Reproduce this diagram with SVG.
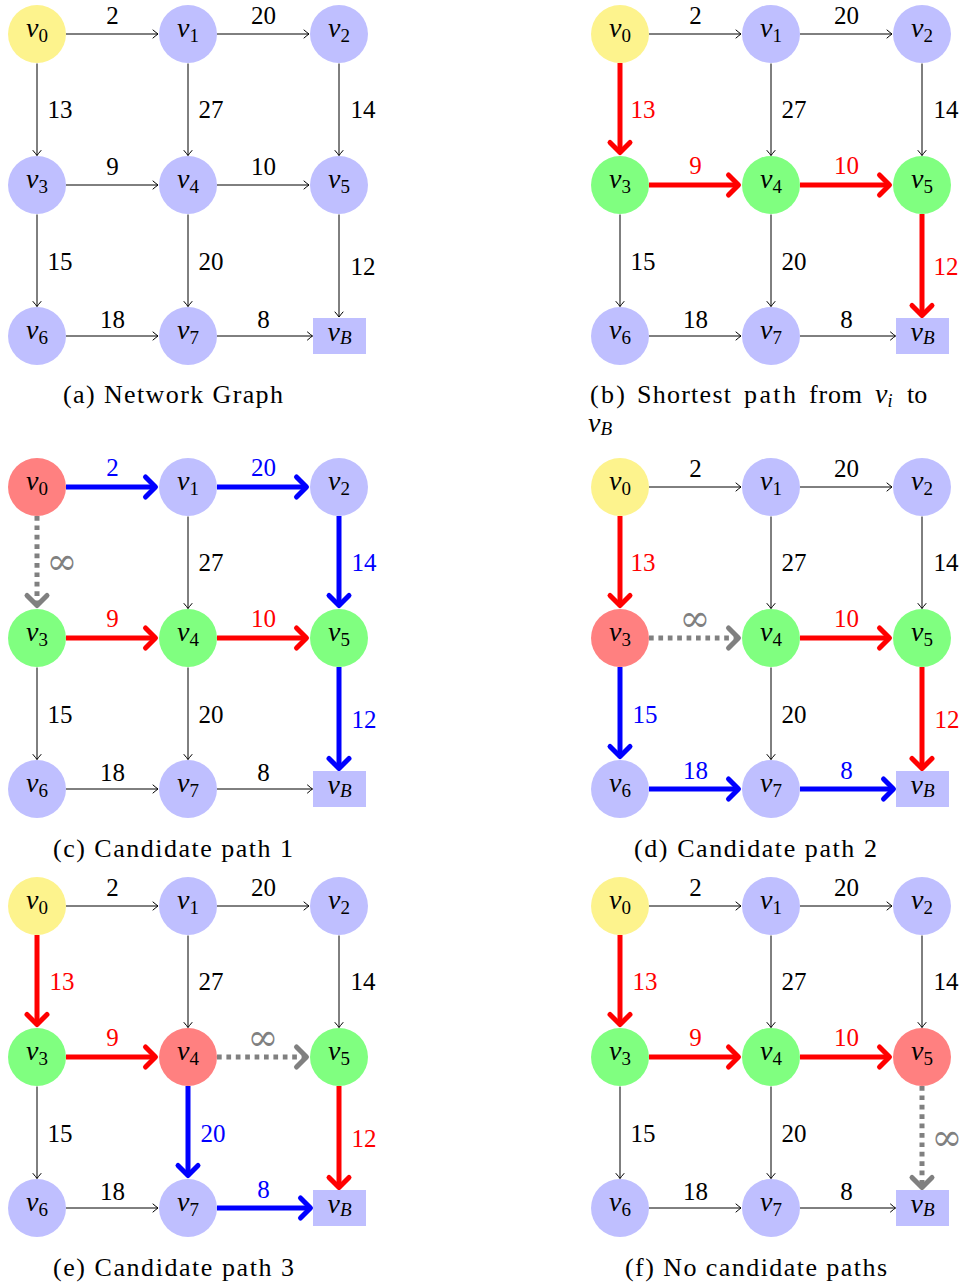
<svg xmlns="http://www.w3.org/2000/svg" width="964" height="1288" viewBox="0 0 964 1288">
<defs>
<style>
.e{fill:none;stroke:#000;stroke-width:1;marker-end:url(#ah)}
.er{fill:none;stroke:#f00;stroke-width:5;marker-end:url(#ah-r)}
.eb{fill:none;stroke:#00f;stroke-width:5;marker-end:url(#ah-b)}
.eg{fill:none;stroke:#808080;stroke-width:5;stroke-dasharray:4.7 4.7;marker-end:url(#ah-g)}
.w{font-family:"Liberation Serif","DejaVu Serif",serif;font-size:25px;text-anchor:middle;fill:#000}
.wr{fill:#f00}.wb{fill:#00f}.wg{fill:#808080}
.inf{font-family:"DejaVu Serif","Liberation Serif",serif;font-size:37px}
.nv{font-family:"Liberation Serif","DejaVu Serif",serif;font-style:italic;font-size:28px;text-anchor:middle;fill:#000}
.sb{font-style:normal;font-size:19px}
.si{font-style:italic}
.ny{fill:#FDF38D}.nb{fill:#BFBFFF}.ng{fill:#80FF80}.nr{fill:#FF8080}
.cap{font-family:"Liberation Serif","DejaVu Serif",serif;font-size:26px;fill:#000}
</style>
<marker id="ah" markerUnits="userSpaceOnUse" markerWidth="12" markerHeight="12" orient="auto" overflow="visible">
<path d="M-5,-4 Q-1.5,-1 0,0 Q-1.5,1 -5,4" fill="none" stroke="#000" stroke-width="1" stroke-linecap="round"/>
</marker>
<marker id="ah-r" markerUnits="userSpaceOnUse" markerWidth="24" markerHeight="24" orient="auto" overflow="visible">
<path d="M-10,-10 L0,0 L-10,10" fill="none" stroke="#f00" stroke-width="5" stroke-linecap="round" stroke-linejoin="round"/>
</marker>
<marker id="ah-b" markerUnits="userSpaceOnUse" markerWidth="24" markerHeight="24" orient="auto" overflow="visible">
<path d="M-10,-10 L0,0 L-10,10" fill="none" stroke="#00f" stroke-width="5" stroke-linecap="round" stroke-linejoin="round"/>
</marker>
<marker id="ah-g" markerUnits="userSpaceOnUse" markerWidth="24" markerHeight="24" orient="auto" overflow="visible">
<path d="M-10,-10 L0,0 L-10,10" fill="none" stroke="#808080" stroke-width="5" stroke-linecap="round" stroke-linejoin="round"/>
</marker>
</defs>
<rect width="964" height="1288" fill="#fff"/>

<!-- (a) network graph -->
<g id="panel-a">
<g id="a-edges">
<path class="e" d="M66,34H158"/>
<path class="e" d="M217,34H309"/>
<path class="e" d="M66,185H158"/>
<path class="e" d="M217,185H309"/>
<path class="e" d="M66,336H158"/>
<path class="e" d="M217,336H312.5"/>
<path class="e" d="M37,63.5V155.5"/>
<path class="e" d="M188,63.5V155.5"/>
<path class="e" d="M339,63.5V155.5"/>
<path class="e" d="M37,214.5V306.5"/>
<path class="e" d="M188,214.5V306.5"/>
<path class="e" d="M339,214.5V317"/>
<text class="w" x="112.5" y="24">2</text>
<text class="w" x="263.5" y="24">20</text>
<text class="w" x="112.5" y="175">9</text>
<text class="w" x="263.5" y="175">10</text>
<text class="w" x="112.5" y="328">18</text>
<text class="w" x="263.5" y="328">8</text>
<text class="w" x="60" y="118">13</text>
<text class="w" x="211" y="118">27</text>
<text class="w" x="363" y="118">14</text>
<text class="w" x="60" y="270">15</text>
<text class="w" x="211" y="270">20</text>
<text class="w" x="363" y="275">12</text>
</g>
<g id="a-v0"><circle class="ny" cx="37" cy="34" r="29"/><text class="nv" x="37" y="37">v<tspan class="sb" dy="5">0</tspan></text></g>
<g id="a-v1"><circle class="nb" cx="188" cy="34" r="29"/><text class="nv" x="188" y="37">v<tspan class="sb" dy="5">1</tspan></text></g>
<g id="a-v2"><circle class="nb" cx="339" cy="34" r="29"/><text class="nv" x="339" y="37">v<tspan class="sb" dy="5">2</tspan></text></g>
<g id="a-v3"><circle class="nb" cx="37" cy="185" r="29"/><text class="nv" x="37" y="188">v<tspan class="sb" dy="5">3</tspan></text></g>
<g id="a-v4"><circle class="nb" cx="188" cy="185" r="29"/><text class="nv" x="188" y="188">v<tspan class="sb" dy="5">4</tspan></text></g>
<g id="a-v5"><circle class="nb" cx="339" cy="185" r="29"/><text class="nv" x="339" y="188">v<tspan class="sb" dy="5">5</tspan></text></g>
<g id="a-v6"><circle class="nb" cx="37" cy="336" r="29"/><text class="nv" x="37" y="339">v<tspan class="sb" dy="5">6</tspan></text></g>
<g id="a-v7"><circle class="nb" cx="188" cy="336" r="29"/><text class="nv" x="188" y="339">v<tspan class="sb" dy="5">7</tspan></text></g>
<g id="a-vB"><rect class="nb" x="313" y="318" width="53" height="36"/><text class="nv" x="339.5" y="340.5">v<tspan class="sb si" dy="3">B</tspan></text></g>
<text class="cap" x="63" y="403" textLength="220" lengthAdjust="spacing">(a) Network Graph</text>
</g>

<!-- (b) shortest path -->
<g id="panel-b" transform="translate(583,0)">
<g id="b-edges">
<path class="e" d="M66,34H158"/>
<path class="e" d="M217,34H309"/>
<path class="er" d="M66,185H155.5"/>
<path class="er" d="M217,185H306.5"/>
<path class="e" d="M66,336H158"/>
<path class="e" d="M217,336H312.5"/>
<path class="er" d="M37,63V152.5"/>
<path class="e" d="M188,63.5V155.5"/>
<path class="e" d="M339,63.5V155.5"/>
<path class="e" d="M37,214.5V306.5"/>
<path class="e" d="M188,214.5V306.5"/>
<path class="er" d="M339,214V315.5"/>
<text class="w" x="112.5" y="24">2</text>
<text class="w" x="263.5" y="24">20</text>
<text class="w wr" x="112.5" y="174">9</text>
<text class="w wr" x="263.5" y="174">10</text>
<text class="w" x="112.5" y="328">18</text>
<text class="w" x="263.5" y="328">8</text>
<text class="w wr" x="60" y="118">13</text>
<text class="w" x="211" y="118">27</text>
<text class="w" x="363" y="118">14</text>
<text class="w" x="60" y="270">15</text>
<text class="w" x="211" y="270">20</text>
<text class="w wr" x="363" y="275">12</text>
</g>
<g id="b-v0"><circle class="ny" cx="37" cy="34" r="29"/><text class="nv" x="37" y="37">v<tspan class="sb" dy="5">0</tspan></text></g>
<g id="b-v1"><circle class="nb" cx="188" cy="34" r="29"/><text class="nv" x="188" y="37">v<tspan class="sb" dy="5">1</tspan></text></g>
<g id="b-v2"><circle class="nb" cx="339" cy="34" r="29"/><text class="nv" x="339" y="37">v<tspan class="sb" dy="5">2</tspan></text></g>
<g id="b-v3"><circle class="ng" cx="37" cy="185" r="29"/><text class="nv" x="37" y="188">v<tspan class="sb" dy="5">3</tspan></text></g>
<g id="b-v4"><circle class="ng" cx="188" cy="185" r="29"/><text class="nv" x="188" y="188">v<tspan class="sb" dy="5">4</tspan></text></g>
<g id="b-v5"><circle class="ng" cx="339" cy="185" r="29"/><text class="nv" x="339" y="188">v<tspan class="sb" dy="5">5</tspan></text></g>
<g id="b-v6"><circle class="nb" cx="37" cy="336" r="29"/><text class="nv" x="37" y="339">v<tspan class="sb" dy="5">6</tspan></text></g>
<g id="b-v7"><circle class="nb" cx="188" cy="336" r="29"/><text class="nv" x="188" y="339">v<tspan class="sb" dy="5">7</tspan></text></g>
<g id="b-vB"><rect class="nb" x="313" y="318" width="53" height="36"/><text class="nv" x="339.5" y="340.5">v<tspan class="sb si" dy="3">B</tspan></text></g>
<text class="cap" y="403"><tspan x="7" textLength="35" lengthAdjust="spacing">(b)</tspan><tspan x="54" textLength="94" lengthAdjust="spacing">Shortest</tspan><tspan x="161" textLength="52" lengthAdjust="spacing">path</tspan><tspan x="226" textLength="53" lengthAdjust="spacing">from</tspan><tspan x="292" font-style="italic" font-size="28">v</tspan><tspan font-style="italic" font-size="18" dy="4">i</tspan><tspan x="324" dy="-4">to</tspan></text>
<text class="cap" x="5" y="432"><tspan font-style="italic" font-size="28">v</tspan><tspan font-style="italic" font-size="19" dy="3">B</tspan></text>
</g>

<!-- (c) candidate path 1 -->
<g id="panel-c" transform="translate(0,453)">
<g id="c-edges">
<path class="eb" d="M66,34H155.5"/>
<path class="eb" d="M217,34H306.5"/>
<path class="er" d="M66,185H155.5"/>
<path class="er" d="M217,185H306.5"/>
<path class="e" d="M66,336H158"/>
<path class="e" d="M217,336H312.5"/>
<path class="eg" d="M37,63V152.5"/>
<path class="e" d="M188,63.5V155.5"/>
<path class="eb" d="M339,63V152.5"/>
<path class="e" d="M37,214.5V306.5"/>
<path class="e" d="M188,214.5V306.5"/>
<path class="eb" d="M339,214V315.5"/>
<text class="w wb" x="112.5" y="23">2</text>
<text class="w wb" x="263.5" y="23">20</text>
<text class="w wr" x="112.5" y="174">9</text>
<text class="w wr" x="263.5" y="174">10</text>
<text class="w" x="112.5" y="328">18</text>
<text class="w" x="263.5" y="328">8</text>
<text class="w wg inf" x="62" y="121">∞</text>
<text class="w" x="211" y="118">27</text>
<text class="w wb" x="364" y="118">14</text>
<text class="w" x="60" y="270">15</text>
<text class="w" x="211" y="270">20</text>
<text class="w wb" x="364" y="275">12</text>
</g>
<g id="c-v0"><circle class="nr" cx="37" cy="34" r="29"/><text class="nv" x="37" y="37">v<tspan class="sb" dy="5">0</tspan></text></g>
<g id="c-v1"><circle class="nb" cx="188" cy="34" r="29"/><text class="nv" x="188" y="37">v<tspan class="sb" dy="5">1</tspan></text></g>
<g id="c-v2"><circle class="nb" cx="339" cy="34" r="29"/><text class="nv" x="339" y="37">v<tspan class="sb" dy="5">2</tspan></text></g>
<g id="c-v3"><circle class="ng" cx="37" cy="185" r="29"/><text class="nv" x="37" y="188">v<tspan class="sb" dy="5">3</tspan></text></g>
<g id="c-v4"><circle class="ng" cx="188" cy="185" r="29"/><text class="nv" x="188" y="188">v<tspan class="sb" dy="5">4</tspan></text></g>
<g id="c-v5"><circle class="ng" cx="339" cy="185" r="29"/><text class="nv" x="339" y="188">v<tspan class="sb" dy="5">5</tspan></text></g>
<g id="c-v6"><circle class="nb" cx="37" cy="336" r="29"/><text class="nv" x="37" y="339">v<tspan class="sb" dy="5">6</tspan></text></g>
<g id="c-v7"><circle class="nb" cx="188" cy="336" r="29"/><text class="nv" x="188" y="339">v<tspan class="sb" dy="5">7</tspan></text></g>
<g id="c-vB"><rect class="nb" x="313" y="318" width="53" height="36"/><text class="nv" x="339.5" y="340.5">v<tspan class="sb si" dy="3">B</tspan></text></g>
<text class="cap" x="53" y="404" textLength="240" lengthAdjust="spacing">(c) Candidate path 1</text>
</g>

<!-- (d) candidate path 2 -->
<g id="panel-d" transform="translate(583,453)">
<g id="d-edges">
<path class="e" d="M66,34H158"/>
<path class="e" d="M217,34H309"/>
<path class="eg" d="M66,185H155.5"/>
<path class="er" d="M217,185H306.5"/>
<path class="eb" d="M66,336H155.5"/>
<path class="eb" d="M217,336H310.5"/>
<path class="er" d="M37,63V152.5"/>
<path class="e" d="M188,63.5V155.5"/>
<path class="e" d="M339,63.5V155.5"/>
<path class="eb" d="M37,214V303.5"/>
<path class="e" d="M188,214.5V306.5"/>
<path class="er" d="M339,214V315.5"/>
<text class="w" x="112.5" y="24">2</text>
<text class="w" x="263.5" y="24">20</text>
<text class="w wg inf" x="112" y="178">∞</text>
<text class="w wr" x="263.5" y="174">10</text>
<text class="w wb" x="112.5" y="326">18</text>
<text class="w wb" x="263.5" y="326">8</text>
<text class="w wr" x="60" y="118">13</text>
<text class="w" x="211" y="118">27</text>
<text class="w" x="363" y="118">14</text>
<text class="w wb" x="62" y="270">15</text>
<text class="w" x="211" y="270">20</text>
<text class="w wr" x="364" y="275">12</text>
</g>
<g id="d-v0"><circle class="ny" cx="37" cy="34" r="29"/><text class="nv" x="37" y="37">v<tspan class="sb" dy="5">0</tspan></text></g>
<g id="d-v1"><circle class="nb" cx="188" cy="34" r="29"/><text class="nv" x="188" y="37">v<tspan class="sb" dy="5">1</tspan></text></g>
<g id="d-v2"><circle class="nb" cx="339" cy="34" r="29"/><text class="nv" x="339" y="37">v<tspan class="sb" dy="5">2</tspan></text></g>
<g id="d-v3"><circle class="nr" cx="37" cy="185" r="29"/><text class="nv" x="37" y="188">v<tspan class="sb" dy="5">3</tspan></text></g>
<g id="d-v4"><circle class="ng" cx="188" cy="185" r="29"/><text class="nv" x="188" y="188">v<tspan class="sb" dy="5">4</tspan></text></g>
<g id="d-v5"><circle class="ng" cx="339" cy="185" r="29"/><text class="nv" x="339" y="188">v<tspan class="sb" dy="5">5</tspan></text></g>
<g id="d-v6"><circle class="nb" cx="37" cy="336" r="29"/><text class="nv" x="37" y="339">v<tspan class="sb" dy="5">6</tspan></text></g>
<g id="d-v7"><circle class="nb" cx="188" cy="336" r="29"/><text class="nv" x="188" y="339">v<tspan class="sb" dy="5">7</tspan></text></g>
<g id="d-vB"><rect class="nb" x="313" y="318" width="53" height="36"/><text class="nv" x="339.5" y="340.5">v<tspan class="sb si" dy="3">B</tspan></text></g>
<text class="cap" x="51" y="404" textLength="243" lengthAdjust="spacing">(d) Candidate path 2</text>
</g>

<!-- (e) candidate path 3 -->
<g id="panel-e" transform="translate(0,872)">
<g id="e-edges">
<path class="e" d="M66,34H158"/>
<path class="e" d="M217,34H309"/>
<path class="er" d="M66,185H155.5"/>
<path class="eg" d="M217,185H306.5"/>
<path class="e" d="M66,336H158"/>
<path class="eb" d="M217,336H310.5"/>
<path class="er" d="M37,63V152.5"/>
<path class="e" d="M188,63.5V155.5"/>
<path class="e" d="M339,63.5V155.5"/>
<path class="e" d="M37,214.5V306.5"/>
<path class="eb" d="M188,214V303.5"/>
<path class="er" d="M339,214V315.5"/>
<text class="w" x="112.5" y="24">2</text>
<text class="w" x="263.5" y="24">20</text>
<text class="w wr" x="112.5" y="174">9</text>
<text class="w wg inf" x="263" y="178">∞</text>
<text class="w" x="112.5" y="328">18</text>
<text class="w wb" x="263.5" y="326">8</text>
<text class="w wr" x="62" y="118">13</text>
<text class="w" x="211" y="118">27</text>
<text class="w" x="363" y="118">14</text>
<text class="w" x="60" y="270">15</text>
<text class="w wb" x="213" y="270">20</text>
<text class="w wr" x="364" y="275">12</text>
</g>
<g id="e-v0"><circle class="ny" cx="37" cy="34" r="29"/><text class="nv" x="37" y="37">v<tspan class="sb" dy="5">0</tspan></text></g>
<g id="e-v1"><circle class="nb" cx="188" cy="34" r="29"/><text class="nv" x="188" y="37">v<tspan class="sb" dy="5">1</tspan></text></g>
<g id="e-v2"><circle class="nb" cx="339" cy="34" r="29"/><text class="nv" x="339" y="37">v<tspan class="sb" dy="5">2</tspan></text></g>
<g id="e-v3"><circle class="ng" cx="37" cy="185" r="29"/><text class="nv" x="37" y="188">v<tspan class="sb" dy="5">3</tspan></text></g>
<g id="e-v4"><circle class="nr" cx="188" cy="185" r="29"/><text class="nv" x="188" y="188">v<tspan class="sb" dy="5">4</tspan></text></g>
<g id="e-v5"><circle class="ng" cx="339" cy="185" r="29"/><text class="nv" x="339" y="188">v<tspan class="sb" dy="5">5</tspan></text></g>
<g id="e-v6"><circle class="nb" cx="37" cy="336" r="29"/><text class="nv" x="37" y="339">v<tspan class="sb" dy="5">6</tspan></text></g>
<g id="e-v7"><circle class="nb" cx="188" cy="336" r="29"/><text class="nv" x="188" y="339">v<tspan class="sb" dy="5">7</tspan></text></g>
<g id="e-vB"><rect class="nb" x="313" y="318" width="53" height="36"/><text class="nv" x="339.5" y="340.5">v<tspan class="sb si" dy="3">B</tspan></text></g>
<text class="cap" x="53" y="404" textLength="241" lengthAdjust="spacing">(e) Candidate path 3</text>
</g>

<!-- (f) no candidate paths -->
<g id="panel-f" transform="translate(583,872)">
<g id="f-edges">
<path class="e" d="M66,34H158"/>
<path class="e" d="M217,34H309"/>
<path class="er" d="M66,185H155.5"/>
<path class="er" d="M217,185H306.5"/>
<path class="e" d="M66,336H158"/>
<path class="e" d="M217,336H312.5"/>
<path class="er" d="M37,63V152.5"/>
<path class="e" d="M188,63.5V155.5"/>
<path class="e" d="M339,63.5V155.5"/>
<path class="e" d="M37,214.5V306.5"/>
<path class="e" d="M188,214.5V306.5"/>
<path class="eg" d="M339,214V315.5"/>
<text class="w" x="112.5" y="24">2</text>
<text class="w" x="263.5" y="24">20</text>
<text class="w wr" x="112.5" y="174">9</text>
<text class="w wr" x="263.5" y="174">10</text>
<text class="w" x="112.5" y="328">18</text>
<text class="w" x="263.5" y="328">8</text>
<text class="w wr" x="62" y="118">13</text>
<text class="w" x="211" y="118">27</text>
<text class="w" x="363" y="118">14</text>
<text class="w" x="60" y="270">15</text>
<text class="w" x="211" y="270">20</text>
<text class="w wg inf" x="364" y="278">∞</text>
</g>
<g id="f-v0"><circle class="ny" cx="37" cy="34" r="29"/><text class="nv" x="37" y="37">v<tspan class="sb" dy="5">0</tspan></text></g>
<g id="f-v1"><circle class="nb" cx="188" cy="34" r="29"/><text class="nv" x="188" y="37">v<tspan class="sb" dy="5">1</tspan></text></g>
<g id="f-v2"><circle class="nb" cx="339" cy="34" r="29"/><text class="nv" x="339" y="37">v<tspan class="sb" dy="5">2</tspan></text></g>
<g id="f-v3"><circle class="ng" cx="37" cy="185" r="29"/><text class="nv" x="37" y="188">v<tspan class="sb" dy="5">3</tspan></text></g>
<g id="f-v4"><circle class="ng" cx="188" cy="185" r="29"/><text class="nv" x="188" y="188">v<tspan class="sb" dy="5">4</tspan></text></g>
<g id="f-v5"><circle class="nr" cx="339" cy="185" r="29"/><text class="nv" x="339" y="188">v<tspan class="sb" dy="5">5</tspan></text></g>
<g id="f-v6"><circle class="nb" cx="37" cy="336" r="29"/><text class="nv" x="37" y="339">v<tspan class="sb" dy="5">6</tspan></text></g>
<g id="f-v7"><circle class="nb" cx="188" cy="336" r="29"/><text class="nv" x="188" y="339">v<tspan class="sb" dy="5">7</tspan></text></g>
<g id="f-vB"><rect class="nb" x="313" y="318" width="53" height="36"/><text class="nv" x="339.5" y="340.5">v<tspan class="sb si" dy="3">B</tspan></text></g>
<text class="cap" x="42" y="404" textLength="262" lengthAdjust="spacing">(f) No candidate paths</text>
</g>
</svg>
